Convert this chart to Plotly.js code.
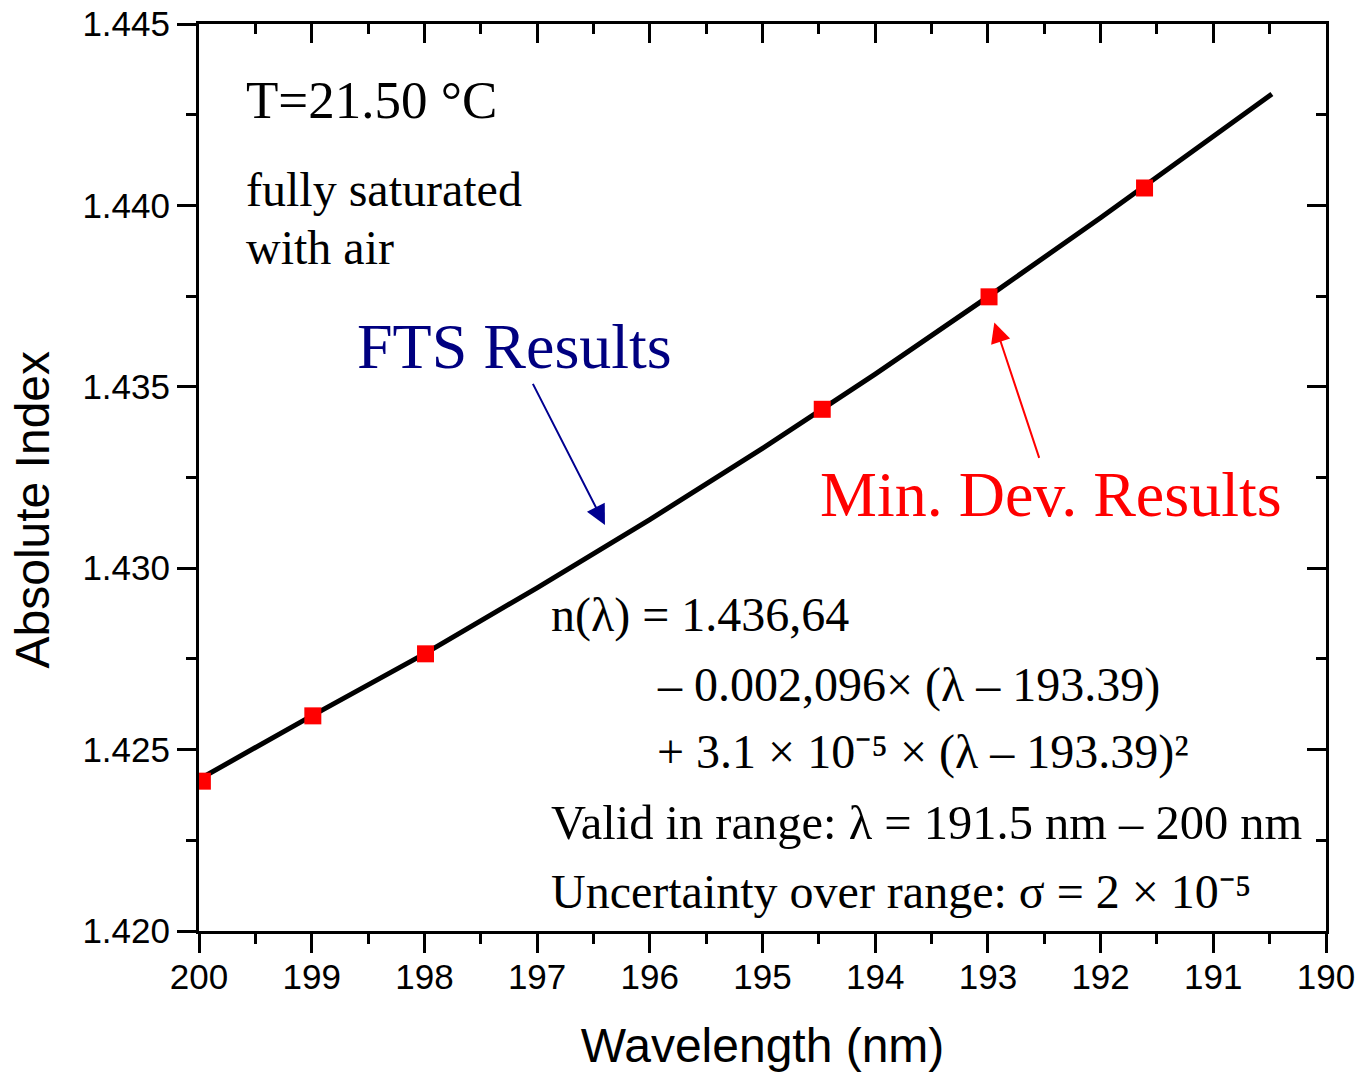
<!DOCTYPE html>
<html>
<head>
<meta charset="utf-8">
<script src="https://cdn.plot.ly/plotly-3.0.1.min.js"></script>
<style>html,body{margin:0;padding:0;background:#fff;}#chart{width:1358px;height:1072px;}</style>
</head>
<body>
<div id="chart"></div>
<script>
// FTS result curve
const ftsWavelength = [200, 199, 198, 197, 196, 195, 194, 193, 192, 191, 190.48];
const ftsIndex = [1.42418, 1.42593, 1.42764, 1.42946, 1.43134, 1.43330, 1.43535, 1.43748, 1.43966, 1.44188, 1.44307];
// Minimum deviation results
const mdWavelength = [199.97, 198.99, 197.99, 194.47, 192.99, 191.61];
const mdIndex = [1.42413, 1.42593, 1.42764, 1.43438, 1.43748, 1.44048];
// Axis settings
const xRange = [200, 190];
const yRange = [1.420, 1.445];

const serif = 'Liberation Serif, Times New Roman, serif';
const sans = 'Liberation Sans, Arial, sans-serif';

const traces = [
  {x: ftsWavelength, y: ftsIndex, mode: 'lines', type: 'scatter', name: 'FTS Results',
   line: {color: '#000000', width: 5}, hoverinfo: 'x+y'},
  {x: mdWavelength, y: mdIndex, mode: 'markers', type: 'scatter', name: 'Min. Dev. Results',
   marker: {symbol: 'square', size: 17, color: '#ff0000', line: {width: 0}}, hoverinfo: 'x+y'},
  // invisible copy on the mirror axes so that the top and right frame axes are drawn
  {x: mdWavelength, y: mdIndex, xaxis: 'x2', yaxis: 'y2', mode: 'markers', type: 'scatter',
   marker: {opacity: 0, size: 1}, hoverinfo: 'skip', showlegend: false}
];

const axisCommon = {showline: true, linecolor: '#000', linewidth: 3, showgrid: false, zeroline: false,
  tickcolor: '#000', tickwidth: 3, ticklen: 19};

const eqFont = {family: serif, size: 48, color: '#000'};

const annotations = [
  {xref: 'x', yref: 'y', x: 199.60, y: 1.44291, xanchor: 'left', yanchor: 'middle', showarrow: false,
   text: 'T=21.50 °C', font: {family: serif, size: 53, color: '#000'}},
  {xref: 'x', yref: 'y', x: 199.60, y: 1.44045, xanchor: 'left', yanchor: 'middle', showarrow: false,
   text: 'fully saturated', font: {family: serif, size: 48, color: '#000'}},
  {xref: 'x', yref: 'y', x: 199.60, y: 1.43885, xanchor: 'left', yanchor: 'middle', showarrow: false,
   text: 'with air', font: {family: serif, size: 48, color: '#000'}},
  {xref: 'x', yref: 'y', axref: 'x', ayref: 'y', x: 196.398, y: 1.43119, ax: 197.205, ay: 1.43610,
   text: 'FTS Results', font: {family: serif, size: 64, color: '#000080'},
   showarrow: true, arrowhead: 2, arrowsize: 2, arrowwidth: 2, arrowcolor: '#000090'},
  {xref: 'x', yref: 'y', axref: 'x', ayref: 'y', x: 192.943, y: 1.43677, ax: 192.436, ay: 1.43202,
   text: 'Min. Dev. Results', font: {family: serif, size: 64, color: '#ff0000'},
   showarrow: true, arrowhead: 2, arrowsize: 2, arrowwidth: 2, arrowcolor: '#ff0000'},
  {xref: 'x', yref: 'y', x: 196.895, y: 1.42871, xanchor: 'left', yanchor: 'middle', showarrow: false,
   text: 'n(λ) = 1.436,64', font: eqFont},
  {xref: 'x', yref: 'y', x: 195.954, y: 1.42678, xanchor: 'left', yanchor: 'middle', showarrow: false,
   text: '– 0.002,096× (λ – 193.39)', font: eqFont},
  {xref: 'x', yref: 'y', x: 195.954, y: 1.42493, xanchor: 'left', yanchor: 'middle', showarrow: false,
   text: '+ 3.1 × 10⁻⁵ × (λ – 193.39)²', font: eqFont},
  {xref: 'x', yref: 'y', x: 196.895, y: 1.42298, xanchor: 'left', yanchor: 'middle', showarrow: false,
   text: 'Valid in range: λ = 191.5 nm – 200 nm', font: {family: serif, size: 48.5, color: '#000'}},
  {xref: 'x', yref: 'y', x: 196.895, y: 1.42110, xanchor: 'left', yanchor: 'middle', showarrow: false,
   text: 'Uncertainty over range: σ = 2 × 10⁻⁵', font: eqFont},
  {xref: 'paper', yref: 'paper', x: -0.1473, y: 0.4647, xanchor: 'center', yanchor: 'middle', showarrow: false,
   textangle: -90, text: 'Absolute Index', font: {family: sans, size: 48, color: '#000'}}
];

const layout = {
  width: 1358, height: 1072,
  margin: {l: 199, r: 32, t: 24, b: 141},
  paper_bgcolor: '#fff', plot_bgcolor: '#fff',
  showlegend: false,
  font: {family: sans, color: '#000'},
  xaxis: Object.assign({}, axisCommon, {
    range: xRange, autorange: false, dtick: 1, tick0: 190, ticks: 'outside', ticklabelstandoff: -6,
    tickfont: {family: sans, size: 35, color: '#000'},
    minor: {ticks: 'outside', ticklen: 10, tickwidth: 3, tickcolor: '#000', dtick: 0.5, tick0: 190},
    title: {text: 'Wavelength (nm)', font: {family: sans, size: 48, color: '#000'}, standoff: 36}
  }),
  yaxis: Object.assign({}, axisCommon, {
    range: yRange, autorange: false, dtick: 0.005, tick0: 1.42, ticks: 'outside', tickformat: '.3f',
    tickfont: {family: sans, size: 35, color: '#000'},
    minor: {ticks: 'outside', ticklen: 10, tickwidth: 3, tickcolor: '#000', dtick: 0.0025, tick0: 1.42}
  }),
  xaxis2: Object.assign({}, axisCommon, {
    overlaying: 'x', side: 'top', anchor: 'y2', range: xRange, autorange: false, dtick: 1, tick0: 190,
    ticks: 'inside', showticklabels: false,
    minor: {ticks: 'inside', ticklen: 10, tickwidth: 3, tickcolor: '#000', dtick: 0.5, tick0: 190}
  }),
  yaxis2: Object.assign({}, axisCommon, {
    overlaying: 'y', side: 'right', anchor: 'x2', range: yRange, autorange: false, dtick: 0.005, tick0: 1.42,
    ticks: 'inside', showticklabels: false,
    minor: {ticks: 'inside', ticklen: 10, tickwidth: 3, tickcolor: '#000', dtick: 0.0025, tick0: 1.42}
  }),
  annotations: annotations
};

Plotly.newPlot('chart', traces, layout, {staticPlot: true}).then(function (gd) {
  // drop empty placeholder text nodes (unused titles) that Plotly leaves in the SVG
  gd.querySelectorAll('text').forEach(function (t) {
    if (!t.textContent.replace(/[\s\u200b]/g, '')) t.remove();
  });
});
</script>
</body>
</html>
